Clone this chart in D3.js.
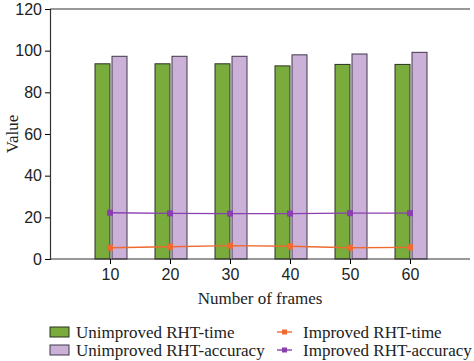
<!DOCTYPE html>
<html>
<head>
<meta charset="utf-8">
<script src="https://cdn.jsdelivr.net/npm/d3@7"></script>
<style>
  body { margin: 0; background: #fff; }
  svg { font-family: "Liberation Serif", "DejaVu Serif", serif; }
</style>
</head>
<body>
<svg class="chart" width="474" height="361"></svg>
<script>
"use strict";

let frames = [10, 20, 30, 40, 50, 60];
let unimprovedTime = [93.7, 93.7, 93.7, 92.7, 93.4, 93.4];
let unimprovedAccuracy = [97.3, 97.3, 97.3, 98.0, 98.4, 99.2];
let improvedTime = [5.4, 5.9, 6.4, 6.1, 5.4, 5.6];
let improvedAccuracy = [22.2, 21.9, 21.8, 21.8, 22.0, 22.0];
let yTicks = [0, 20, 40, 60, 80, 100, 120];

let svg = d3.select('.chart');

let plotLeft = 50, plotRight = 470, plotTop = 9, plotBottom = 259;
let barWidth = 15;

let x = d3.scalePoint()
  .domain(frames)
  .range([plotLeft, plotRight])
  .padding(1);

let y = d3.scaleLinear()
  .domain([0, 120])
  .range([plotBottom, plotTop]);

// top frame line
svg.append('line')
  .attr('x1', plotLeft).attr('x2', plotRight)
  .attr('y1', y(120)).attr('y2', y(120))
  .attr('stroke', '#333').attr('stroke-width', 1.2);

// bars
let bars = svg.append('g');
bars.selectAll('.green')
  .data(unimprovedTime)
  .enter()
  .append('rect')
  .attr('x', (d, i) => x(frames[i]) - barWidth)
  .attr('y', d => y(d))
  .attr('width', barWidth)
  .attr('height', d => y(0) - y(d))
  .attr('fill', '#79ab3d')
  .attr('stroke', '#2c3320')
  .attr('stroke-width', 1);

bars.selectAll('.purple')
  .data(unimprovedAccuracy)
  .enter()
  .append('rect')
  .attr('x', (d, i) => x(frames[i]) + 2)
  .attr('y', d => y(d))
  .attr('width', barWidth)
  .attr('height', d => y(0) - y(d))
  .attr('fill', '#cbb0d8')
  .attr('stroke', '#40384a')
  .attr('stroke-width', 1);

// lines
let drawLine = (values, color) => {
  let line = d3.line()
    .x((d, i) => x(frames[i]))
    .y(d => y(d));
  svg.append('path')
    .datum(values)
    .attr('d', line)
    .attr('fill', 'none')
    .attr('stroke', color)
    .attr('stroke-width', 1.4);
  svg.append('g').selectAll('rect')
    .data(values)
    .enter()
    .append('rect')
    .attr('x', (d, i) => x(frames[i]) - 3)
    .attr('y', d => y(d) - 3)
    .attr('width', 6)
    .attr('height', 6)
    .attr('fill', color);
};
drawLine(improvedTime, '#ef6a30');
drawLine(improvedAccuracy, '#8a3fae');

// axes
let xAxis = svg.append('g')
  .attr('transform', 'translate(0,' + plotBottom + ')')
  .call(d3.axisBottom(x).tickSizeOuter(0).tickSize(5).tickPadding(5));
xAxis.select('.domain').attr('stroke', '#333').attr('stroke-width', 1.2)
  .attr('d', 'M' + plotLeft + ',0H' + plotRight);
xAxis.selectAll('text').attr('font-size', 16).attr('fill', '#222');

let yAxis = svg.append('g')
  .attr('transform', 'translate(' + plotLeft + ',0)')
  .call(d3.axisLeft(y).tickValues(yTicks).tickSizeOuter(0).tickSize(5).tickPadding(3));
yAxis.select('.domain').attr('stroke', '#333').attr('stroke-width', 1.2);
yAxis.selectAll('text').attr('font-size', 16).attr('fill', '#222');

// axis titles
svg.append('text')
  .attr('x', 260).attr('y', 304)
  .attr('text-anchor', 'middle')
  .attr('font-size', 17)
  .attr('fill', '#222')
  .text('Number of frames');

svg.append('text')
  .attr('transform', 'translate(18,134) rotate(-90)')
  .attr('text-anchor', 'middle')
  .attr('font-size', 17)
  .attr('fill', '#222')
  .text('Value');

// legend
let legend = svg.append('g').attr('font-size', 17).attr('fill', '#222');
let barLegend = [
  ['Unimproved RHT-time', '#79ab3d', '#2c3320'],
  ['Unimproved RHT-accuracy', '#cbb0d8', '#40384a']
];
barLegend.forEach((d, i) => {
  let ly = 332 + i * 18;
  legend.append('rect')
    .attr('x', 50).attr('y', ly - 5).attr('width', 19).attr('height', 10)
    .attr('fill', d[1]).attr('stroke', d[2]);
  legend.append('text')
    .attr('x', 76).attr('y', ly).attr('dy', '0.35em')
    .text(d[0]);
});
let lineLegend = [
  ['Improved RHT-time', '#ef6a30'],
  ['Improved RHT-accuracy', '#8a3fae']
];
lineLegend.forEach((d, i) => {
  let ly = 332 + i * 18;
  legend.append('line')
    .attr('x1', 277).attr('x2', 292).attr('y1', ly).attr('y2', ly)
    .attr('stroke', d[1]).attr('stroke-width', 1.4);
  legend.append('rect')
    .attr('x', 282).attr('y', ly - 2.5).attr('width', 5).attr('height', 5)
    .attr('fill', d[1]);
  legend.append('text')
    .attr('x', 303).attr('y', ly).attr('dy', '0.35em')
    .text(d[0]);
});
</script>
</body>
</html>
